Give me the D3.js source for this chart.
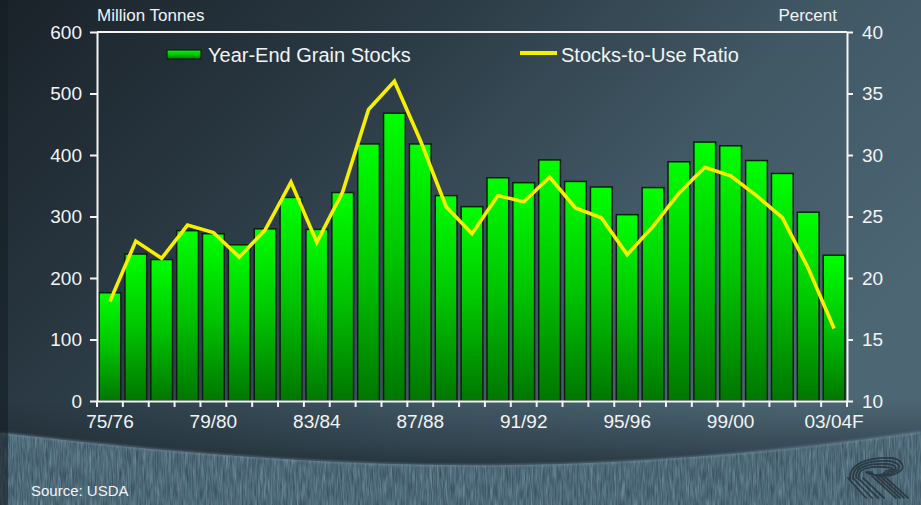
<!DOCTYPE html>
<html>
<head>
<meta charset="utf-8">
<script src="https://cdn.jsdelivr.net/npm/d3@7"></script>
<style>
  html, body { margin: 0; padding: 0; background: #1b242b; }
  svg { display: block; }
  text { font-family: "Liberation Sans", Arial, Helvetica, sans-serif; fill: #f2f4f5; }
</style>
</head>
<body>
<svg id="chart" width="921" height="505"></svg>
<script>
// Crop years, stock levels (million tonnes) and stocks-to-use ratio (percent)
const seasons = ["75/76","76/77","77/78","78/79","79/80","80/81","81/82","82/83","83/84","84/85",
                 "85/86","86/87","87/88","88/89","89/90","90/91","91/92","92/93","93/94","94/95",
                 "95/96","96/97","97/98","98/99","99/00","00/01","01/02","02/03","03/04F"];
const stocks = [176,239,230,277,272,254,280,331,279,339,
                418,468,418,334,316,363,355,392,357,348,
                303,347,389,421,415,391,370,307,237];
const ratio = [18.1,23.0,21.6,24.3,23.7,21.7,23.9,27.8,22.9,27.0,
               33.7,36.0,31.2,25.8,23.6,26.7,26.2,28.2,25.7,24.9,
               21.9,24.2,26.9,29.0,28.3,26.7,24.9,20.8,15.9];
const leftTicks = [0,100,200,300,400,500,600];
const rightTicks = [10,15,20,25,30,35,40];
const labelledSeasons = ["75/76","79/80","83/84","87/88","91/92","95/96","99/00","03/04F"];

const W = 921, H = 505;
const margin = {top: 32, right: 74, bottom: 104, left: 97};
const iw = W - margin.left - margin.right;
const ih = H - margin.top - margin.bottom;

const svg = d3.select("#chart");
const defs = svg.append("defs");

// ---------- background ----------
const bg = defs.append("linearGradient").attr("id","bg")
  .attr("x1",0).attr("y1",0).attr("x2",1).attr("y2",0.55);
[[0,"#1a2229"],[0.35,"#2a3943"],[0.7,"#415865"],[1,"#4d6674"]]
  .forEach(([o,c]) => bg.append("stop").attr("offset",o).attr("stop-color",c));

const shade = defs.append("linearGradient").attr("id","shade")
  .attr("x1",0).attr("y1",0).attr("x2",0).attr("y2",1);
[[0,"rgba(16,26,33,0)"],[0.6,"rgba(16,26,33,0.35)"],[1,"rgba(14,22,28,0.65)"]]
  .forEach(([o,c]) => shade.append("stop").attr("offset",o).attr("stop-color",c));

const barGrad = defs.append("linearGradient").attr("id","barGrad")
  .attr("x1",0).attr("y1",0).attr("x2",0).attr("y2",1);
[[0,"#00ff00"],[0.5,"#00c400"],[1,"#007600"]]
  .forEach(([o,c]) => barGrad.append("stop").attr("offset",o).attr("stop-color",c));

// woven texture for the lower band
const tex = defs.append("filter").attr("id","tex").attr("x",0).attr("y",0).attr("width",1).attr("height",1)
  .attr("color-interpolation-filters","sRGB");
tex.append("feTurbulence").attr("type","fractalNoise").attr("baseFrequency","0.3 0.04")
  .attr("numOctaves",3).attr("seed",7).attr("result","n");
tex.append("feColorMatrix").attr("in","n").attr("type","matrix")
  .attr("values","0 0 0 0 0.52  0 0 0 0 0.63  0 0 0 0 0.7  1.2 0 0 0 -0.48");
const tex2 = defs.append("filter").attr("id","tex2").attr("x",0).attr("y",0).attr("width",1).attr("height",1)
  .attr("color-interpolation-filters","sRGB");
tex2.append("feTurbulence").attr("type","fractalNoise").attr("baseFrequency","0.8 0.06")
  .attr("numOctaves",2).attr("seed",3).attr("result","n");
tex2.append("feColorMatrix").attr("in","n").attr("type","matrix")
  .attr("values","0 0 0 0 0.2  0 0 0 0 0.27  0 0 0 0 0.33  0 1.5 0 0 -0.48");
defs.append("filter").attr("id","soft").append("feGaussianBlur").attr("stdDeviation",1.2);

svg.append("rect").attr("width",W).attr("height",H).attr("fill","url(#bg)");
svg.append("rect").attr("x",0).attr("y",400).attr("width",W).attr("height",75).attr("fill","url(#shade)");

const wavePts = [[0,433],[150,450],[300,461],[460,467],[620,463],[780,451],[921,432]];
const waveTop = d3.line().curve(d3.curveBasis)(wavePts);
const wavePath = waveTop + `L${W},${H}L0,${H}Z`;
defs.append("clipPath").attr("id","waveClip").append("path").attr("d", wavePath);

const band = svg.append("g").attr("clip-path","url(#waveClip)");
band.append("rect").attr("x",0).attr("y",420).attr("width",W).attr("height",90).attr("fill","#52717f");
band.append("rect").attr("x",0).attr("y",420).attr("width",W).attr("height",90).attr("filter","url(#tex)");
band.append("rect").attr("x",0).attr("y",420).attr("width",W).attr("height",90).attr("filter","url(#tex2)");
svg.append("path").attr("d", waveTop).attr("fill","none").attr("stroke","#7d97a5")
  .attr("stroke-width",2).attr("opacity",0.55).attr("filter","url(#soft)");

// dark strip along the left edge
svg.append("rect").attr("x",0).attr("y",0).attr("width",8).attr("height",H).attr("fill","rgba(20,30,36,0.6)");

// emblem in the lower-right corner
const logo = svg.append("g").attr("fill","none").attr("stroke","#26343c").attr("stroke-width",1.8)
  .attr("stroke-linecap","round").attr("opacity",0.85);
for (let k = 0; k < 4; k++) {
  const rx = 29 - k * 6;
  logo.append("path")
    .attr("d", `M${850 + k*3},${480 - k*1} C${848 + k*3},${462 + k*2} ${872},${457 + k*3} ${880 + rx*0.4},${458 + k*3}
                C${900 - k*3},${459 + k*3} ${910 - k*4},${468} ${895 - k*3},${474 - k*1}
                C${888 - k*2},${477} ${872},${476} ${866 + k*2},${472}`);
}
for (let k = 0; k < 4; k++) {
  logo.append("path").attr("d", `M${848 + k*5},${478} L${866 + k*6},${498}`);
  logo.append("path").attr("d", `M${872 + k*4},${476} L${896 + k*4},${498}`);
}

// ---------- scales ----------
const x = d3.scaleBand().domain(seasons).range([0, iw]).padding(0);
const yL = d3.scaleLinear().domain([0, 600]).range([ih, 0]);
const yR = d3.scaleLinear().domain([10, 40]).range([ih, 0]);
const barW = x.bandwidth() * 0.84;

const g = svg.append("g").attr("transform", `translate(${margin.left},${margin.top})`);

// ---------- bars ----------
g.append("g").selectAll("rect").data(stocks).join("rect")
  .attr("x", (d,i) => x(seasons[i]) + (x.bandwidth() - barW) / 2)
  .attr("y", d => yL(d))
  .attr("width", barW)
  .attr("height", d => yL(0) - yL(d))
  .attr("fill", "url(#barGrad)")
  .attr("stroke", "#0d1f10")
  .attr("stroke-width", 1.5);

// ---------- ratio line ----------
const line = d3.line()
  .x((d,i) => x(seasons[i]) + x.bandwidth() / 2)
  .y(d => yR(d));
g.append("path").datum(ratio).attr("d", line)
  .attr("fill","none").attr("stroke","#f6f000").attr("stroke-width",3.6)
  .attr("stroke-linejoin","miter");

// ---------- axes ----------
const axisStyle = sel => {
  sel.selectAll("path.domain").attr("stroke","#f4f4f4").attr("stroke-width",2);
  sel.selectAll(".tick line").attr("stroke","#f4f4f4").attr("stroke-width",2);
  sel.selectAll(".tick text").attr("fill","#f2f4f5").style("font-size","19px")
     .style("font-family",'"Liberation Sans", Arial, sans-serif');
};

g.append("g").call(d3.axisLeft(yL).tickValues(leftTicks).tickSize(7).tickSizeOuter(0).tickPadding(8))
  .call(axisStyle);
g.append("g").attr("transform",`translate(${iw},0)`)
  .call(d3.axisRight(yR).tickValues(rightTicks).tickSize(6).tickSizeOuter(0).tickPadding(9))
  .call(axisStyle);

// top frame line
g.append("line").attr("x1",0).attr("x2",iw).attr("y1",0).attr("y2",0)
  .attr("stroke","#f4f4f4").attr("stroke-width",2);

// bottom axis: ticks at season boundaries, labels every fourth season
const xAxis = g.append("g").attr("transform",`translate(0,${ih})`);
xAxis.call(d3.axisBottom(x).tickValues(labelledSeasons).tickSize(0).tickSizeOuter(0).tickPadding(14))
  .call(axisStyle);
const bounds = seasons.map(s => x(s)).concat([iw]);
xAxis.selectAll("line.bound").data(bounds).join("line").attr("class","bound")
  .attr("x1", d => d).attr("x2", d => d).attr("y1", 0).attr("y2", 6)
  .attr("stroke","#f4f4f4").attr("stroke-width",2);

// axis titles
svg.append("text").attr("x", margin.left).attr("y", 21).style("font-size","17px").text("Million Tonnes");
svg.append("text").attr("x", margin.left + iw - 10).attr("y", 21).attr("text-anchor","end")
  .style("font-size","17px").text("Percent");

// ---------- legend ----------
const leg = svg.append("g");
leg.append("rect").attr("x",167).attr("y",50).attr("width",34).attr("height",9)
  .attr("fill","url(#barGrad)").attr("stroke","#0d1f10").attr("stroke-width",1.2);
leg.append("text").attr("x",208).attr("y",61.5).style("font-size","20px").text("Year-End Grain Stocks");
leg.append("line").attr("x1",520).attr("x2",557).attr("y1",53).attr("y2",53)
  .attr("stroke","#f6f000").attr("stroke-width",4);
leg.append("text").attr("x",561).attr("y",61.5).style("font-size","20px").text("Stocks-to-Use Ratio");

// source note
svg.append("text").attr("x",31).attr("y",496).style("font-size","15px").attr("fill","#e4eaee")
  .text("Source: USDA");
</script>
</body>
</html>
